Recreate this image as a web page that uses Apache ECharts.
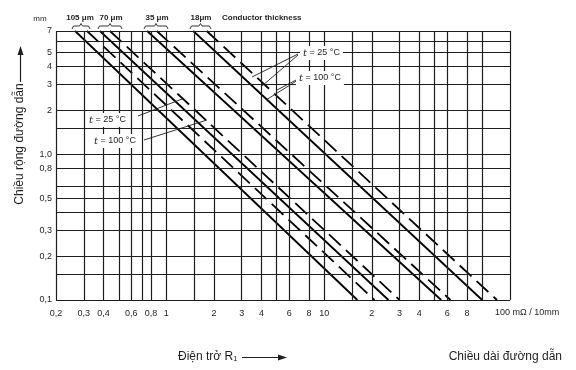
<!DOCTYPE html>
<html><head><meta charset="utf-8">
<script src="https://cdn.jsdelivr.net/npm/echarts@6/dist/echarts.min.js"></script>
<style>html,body{margin:0;padding:0;background:#fff}#c{width:576px;height:370px}</style>
</head><body><div id="c"></div>
<script>
// ---- data ----
const xGrid = [0.2,0.3,0.4,0.5,0.6,0.7,0.8,1,1.5,2,3,4,5,6,8,10,15,20,30,40,50,60,80,100,150];
const yGrid = [0.1,0.15,0.2,0.3,0.4,0.5,0.6,0.8,1,1.5,2,3,4,5,6,7];
const xTickValues = [0.2,0.3,0.4,0.6,0.8,1,2,3,4,6,8,10,20,30,40,60,80];
const xTickLabels = ['0,2','0,3','0,4','0,6','0,8','1','2','3','4','6','8','10','2','3','4','6','8'];
const yTickValues = [0.1,0.2,0.3,0.5,0.8,1,2,3,4,5,7];
const yTickLabels = ['0,1','0,2','0,3','0,5','0,8','1,0','2','3','4','5','7'];
const thickness = ['105 μm','70 μm','35 μm','18μm'];
const widthEnds = [7, 0.1];                 // mm, top and bottom of each line
const r25  = [[0.264, 16.2], [0.379, 25.5], [0.755, 55.0], [1.48, 100]];   // mΩ/10mm at t = 25 °C
const r100 = [[0.314, 20.8], [0.439, 30.0], [0.870, 63.0], [1.80, 124]];   // mΩ/10mm at t = 100 °C

const INK = '#1e1e1e';
const FONT = '"Liberation Sans", Arial, sans-serif';

function lookup(vals, labels, v) {
  for (let i = 0; i < vals.length; i++) if (Math.abs(Math.log10(v) - Math.log10(vals[i])) < 1e-6) return labels[i];
  return '';
}

const series = [];
series.push({
  type: 'line', data: [], silent: true, z: 1,
  markLine: {
    silent: true, symbol: 'none', animation: false,
    label: { show: false },
    lineStyle: { color: INK, width: 1.2, type: 'solid' },
    data: xGrid.map(v => ({ xAxis: v })).concat(yGrid.map(v => ({ yAxis: v })))
  }
});
for (let i = 0; i < r25.length; i++) {
  series.push({
    name: thickness[i] + ' 25 °C', type: 'line', showSymbol: false, z: 3,
    lineStyle: { color: '#000', width: 1.8, type: 'solid' },
    data: [[r25[i][0], widthEnds[0]], [r25[i][1], widthEnds[1]]]
  });
  series.push({
    name: thickness[i] + ' 100 °C', type: 'line', showSymbol: false, z: 3,
    lineStyle: { color: '#000', width: 1.8, type: [16, 7] },
    data: [[r100[i][0], widthEnds[0]], [r100[i][1], widthEnds[1]]]
  });
}

function T(x, y, text, opt) {
  return Object.assign({ type: 'text', x: x, y: y, z: 50,
    style: Object.assign({ text: text, fill: INK, font: '9px ' + FONT, align: 'center', verticalAlign: 'middle' }, opt || {}) });
}
function L(points, w) {
  return { type: 'polyline', z: 49, shape: { points: points }, style: { stroke: INK, lineWidth: w || 0.9, fill: null } };
}
function brace(x1, x2, y) {
  const m = (x1 + x2) / 2;
  return L([[x1, y + 4], [x1 + 1.5, y + 1], [m - 1.5, y + 1], [m, y - 1.5], [m + 1.5, y + 1], [x2 - 1.5, y + 1], [x2, y + 4]], 0.9);
}
function head(x, y, dir) {
  if (dir === 'up') return { type: 'polygon', z: 50, shape: { points: [[x, y], [x - 3, y + 9], [x + 3, y + 9]] }, style: { fill: INK } };
  return { type: 'polygon', z: 50, shape: { points: [[x, y], [x - 9, y - 3], [x - 9, y + 3]] }, style: { fill: INK } };
}
function annot(x, y, temp) {
  return { type: 'text', x: x, y: y, z: 52, style: {
    text: '{i|t} = ' + temp + ' °C', font: '9px ' + FONT, fill: INK, align: 'left', verticalAlign: 'middle',
    backgroundColor: '#fff', padding: [2, 3, 2, 3],
    rich: { i: { fontStyle: 'italic', font: 'italic 10px "DejaVu Serif", serif', fill: INK } } } };
}

const graphic = [
  T(40, 19, 'mm', { font: '8px ' + FONT }),
  T(80, 18, thickness[0], { font: 'bold 8px ' + FONT }),
  T(111, 18, thickness[1], { font: 'bold 8px ' + FONT }),
  T(157, 18, thickness[2], { font: 'bold 8px ' + FONT }),
  T(201, 18, thickness[3], { font: 'bold 8px ' + FONT }),
  T(222, 18, 'Conductor thickness', { font: 'bold 8px ' + FONT, align: 'left' }),
  brace(72, 90, 25), brace(98, 122, 25), brace(144, 168, 25), brace(190, 211, 25),
  // leader lines right
  L([[298, 54], [252, 77]]), L([[298, 55], [262, 86]]),
  L([[298, 79], [277, 90]]), L([[298, 80], [266, 100]]),
  // leader lines left
  L([[138, 116], [182, 99]]), L([[144, 140], [207, 120]]),
  annot(300, 53, '25'), annot(296, 78, '100'),
  annot(86, 120, '25'), annot(91, 141, '100'),
  // x title
  T(178, 357, 'Điện trở R₁', { font: '12px ' + FONT, align: 'left' }),
  L([[242, 357.5], [280, 357.5]], 1.2), head(287, 357.5, 'right'),
  T(562, 357, 'Chiều dài đường dẫn', { font: '12px ' + FONT, align: 'right' }),
  // y title
  Object.assign(T(20, 144, 'Chiều rộng đường dẫn', { font: '12px ' + FONT }), { rotation: Math.PI / 2 }),
  L([[20.5, 82], [20.5, 54]], 1.2), head(20.5, 46, 'up'),
  // unit after 100
  T(495, 313, '100 mΩ / 10mm', { font: '9px ' + FONT, align: 'left' })
];

const chart = echarts.init(document.getElementById('c'), null, { renderer: 'canvas' });
chart.setOption({
  animation: false,
  backgroundColor: '#fff',
  grid: { left: 56, top: 31, width: 454, height: 269, containLabel: false },
  xAxis: {
    type: 'log', logBase: 10, min: 0.2, max: 150,
    axisLine: { show: false }, axisTick: { show: false }, splitLine: { show: false }, minorSplitLine: { show: false },
    axisLabel: { show: true, customValues: xTickValues, showMinLabel: true, showMaxLabel: true, hideOverlap: false,
      margin: 9, color: INK, fontSize: 9, fontFamily: FONT,
      formatter: v => lookup(xTickValues, xTickLabels, v) }
  },
  yAxis: {
    type: 'log', logBase: 10, min: 0.1, max: 7,
    axisLine: { show: false }, axisTick: { show: false }, splitLine: { show: false },
    axisLabel: { show: true, customValues: yTickValues, showMinLabel: true, showMaxLabel: true, hideOverlap: false,
      margin: 4, color: INK, fontSize: 9, fontFamily: FONT,
      formatter: v => lookup(yTickValues, yTickLabels, v) }
  },
  series: series,
  graphic: graphic
});
</script>
</body></html>
